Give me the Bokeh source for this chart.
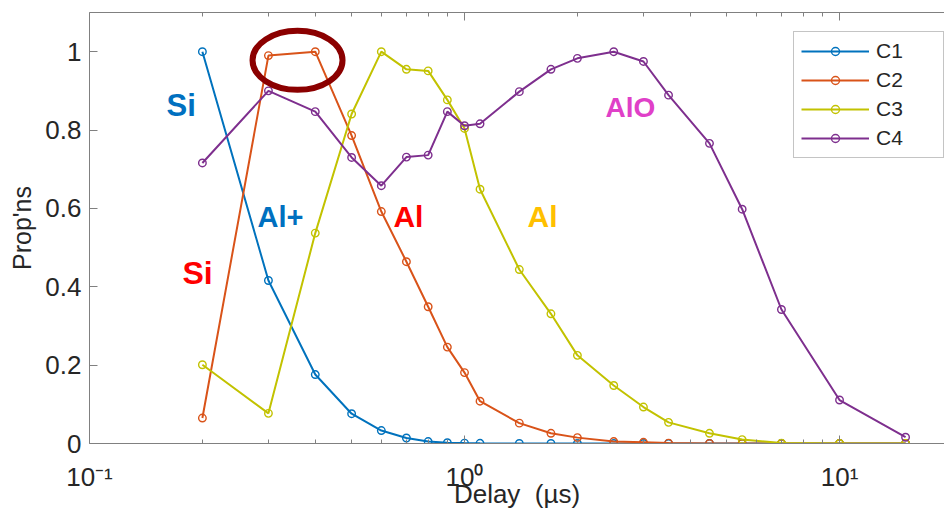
from bokeh.plotting import figure
from bokeh.models import (ColumnDataSource, FixedTicker, LogAxis,
                          CustomJSTickFormatter)
from bokeh.core.properties import value
from bokeh.embed import file_html
from bokeh.resources import INLINE

# ---------------- data ----------------
delay = [0.2, 0.3, 0.4, 0.5, 0.6, 0.7, 0.8, 0.9, 1.0, 1.1, 1.4, 1.7, 2.0,
         2.5, 3.0, 3.5, 4.5, 5.5, 7.0, 10, 15]
c1 = [1.0, 0.416, 0.176, 0.076, 0.033, 0.014, 0.005, 0.002, 0.001, 0.0005,
      0, 0, 0, 0, 0, 0, 0, 0, 0, 0, 0]
c2 = [0.065, 0.99, 1.0, 0.786, 0.592, 0.464, 0.349, 0.246, 0.181, 0.108,
      0.052, 0.026, 0.015, 0.005, 0.003, 0.001, 0, 0, 0, 0, 0]
c3 = [0.201, 0.077, 0.537, 0.841, 1.0, 0.955, 0.951, 0.877, 0.804, 0.649,
      0.444, 0.331, 0.225, 0.148, 0.093, 0.054, 0.026, 0.010, 0.001, 0, 0]
c4 = [0.716, 0.9, 0.847, 0.730, 0.658, 0.731, 0.736, 0.847, 0.811, 0.816,
      0.898, 0.955, 0.983, 1.0, 0.975, 0.889, 0.766, 0.598, 0.342, 0.111,
      0.016]
series_names = ["C1", "C2", "C3", "C4"]
series_colors = ["#0072BD", "#D95319", "#C2C200", "#7E2F8E"]

x_major = [0.1, 1, 10]
x_minor = [0.2, 0.3, 0.4, 0.5, 0.6, 0.7, 0.8, 0.9, 2, 3, 4, 5, 6, 7, 8, 9]
x_tick_labels = ["10\u207b\u00b9", "10\u2070", "10\u00b9"]
y_ticks = [0, 0.2, 0.4, 0.6, 0.8, 1]
y_tick_labels = ["0", "0.2", "0.4", "0.6", "0.8", "1"]

ann_text = ["Si", "Si", "Al+", "Al", "Al", "AlO"]
ann_x = [0.1604, 0.1770, 0.2805, 0.6464, 1.472, 2.377]
ann_y = [0.862, 0.436, 0.579, 0.579, 0.579, 0.858]
ann_color = ["#0070C0", "#FF0000", "#0070C0", "#FF0000", "#FFC000", "#E040C8"]
ann_size = ["31px", "32px", "29px", "30px", "30px", "28px"]

ellipse_x = [0.3587]
ellipse_y = [0.978]

FONT = "Liberation Sans"
AX = "#808080"
TXT = "#262626"

p = figure(width=944, height=514, x_axis_type="log",
           x_range=(0.1, 19.05), y_range=(0, 1.1),
           output_backend="svg", toolbar_location=None,
           min_border_left=89, min_border_right=0,
           min_border_top=12, min_border_bottom=71)
p.xgrid.visible = False
p.ygrid.visible = False
p.outline_line_color = None
p.background_fill_color = "white"

# x axis (bottom)
xa = p.xaxis[0]
xa.ticker = FixedTicker(ticks=x_major, minor_ticks=x_minor)
xa.major_label_overrides = dict(zip(x_major, x_tick_labels))
xa.major_tick_in = 8
xa.major_tick_out = 0
xa.minor_tick_in = 4
xa.minor_tick_out = 0
xa.axis_line_color = AX
xa.major_tick_line_color = AX
xa.minor_tick_line_color = AX
xa.major_label_standoff = 18
xa.major_label_text_font = FONT
xa.major_label_text_font_size = "26px"
xa.major_label_text_color = TXT
xa.axis_label = "Delay\u00a0\u00a0(µs)"
xa.axis_label_text_font = FONT
xa.axis_label_text_font_size = "26px"
xa.axis_label_text_font_style = "normal"
xa.axis_label_text_color = TXT
xa.axis_label_standoff = -16

# top axis (box edge with inward ticks)
top = LogAxis(ticker=FixedTicker(ticks=x_major, minor_ticks=x_minor),
              formatter=CustomJSTickFormatter(code="return ''"),
              major_tick_in=8, major_tick_out=0,
              minor_tick_in=4, minor_tick_out=0,
              axis_line_color=AX, major_tick_line_color=AX,
              minor_tick_line_color=AX, major_label_standoff=0,
              major_label_text_font_size="1px")
p.add_layout(top, "above")

# y axis
ya = p.yaxis[0]
ya.ticker = FixedTicker(ticks=y_ticks, minor_ticks=[])
ya.major_label_overrides = dict(zip(y_ticks, y_tick_labels))
ya.major_tick_in = 8
ya.major_tick_out = 0
ya.minor_tick_in = 0
ya.minor_tick_out = 0
ya.axis_line_color = AX
ya.major_tick_line_color = AX
ya.major_label_text_font = FONT
ya.major_label_text_font_size = "26px"
ya.major_label_text_color = TXT
ya.major_label_standoff = 8
ya.axis_label = "Prop'ns"
ya.axis_label_text_font = FONT
ya.axis_label_text_font_size = "25px"
ya.axis_label_text_font_style = "normal"
ya.axis_label_text_color = TXT
ya.axis_label_standoff = 6

# series
src = ColumnDataSource(dict(x=delay, c1=c1, c2=c2, c3=c3, c4=c4))
for col, name, color in zip(["c1", "c2", "c3", "c4"], series_names,
                            series_colors):
    p.line("x", col, source=src, line_color=color, line_width=2,
           legend_label=name)
    p.scatter("x", col, source=src, marker="circle", size=7.5,
              line_color=color, line_width=1.4, fill_alpha=0,
              legend_label=name)

# highlight ellipse
p.ellipse(x=ellipse_x, y=ellipse_y, width=90, height=59,
          width_units="screen", height_units="screen",
          fill_alpha=0, line_color="#8B0000", line_width=6)

# annotations
ann_src = ColumnDataSource(dict(x=ann_x, y=ann_y, text=ann_text,
                                color=ann_color, size=ann_size))
p.text(x="x", y="y", text="text", source=ann_src, text_color="color",
       text_font_size="size", text_font=value(FONT),
       text_font_style="bold", text_align="left",
       text_baseline="alphabetic")

# legend
lg = p.legend[0]
lg.location = (704, 285)
lg.label_text_font = FONT
lg.label_text_font_size = "21px"
lg.label_text_color = TXT
lg.glyph_width = 68
lg.glyph_height = 20
lg.label_height = 20
lg.label_width = 60
lg.spacing = 5
lg.padding = 7
lg.margin = 0
lg.label_standoff = 7
lg.border_line_color = "#8a8a8a"
lg.border_line_width = 1
lg.background_fill_color = "white"
lg.background_fill_alpha = 1

open("out.html", "w").write(file_html(p, INLINE))
